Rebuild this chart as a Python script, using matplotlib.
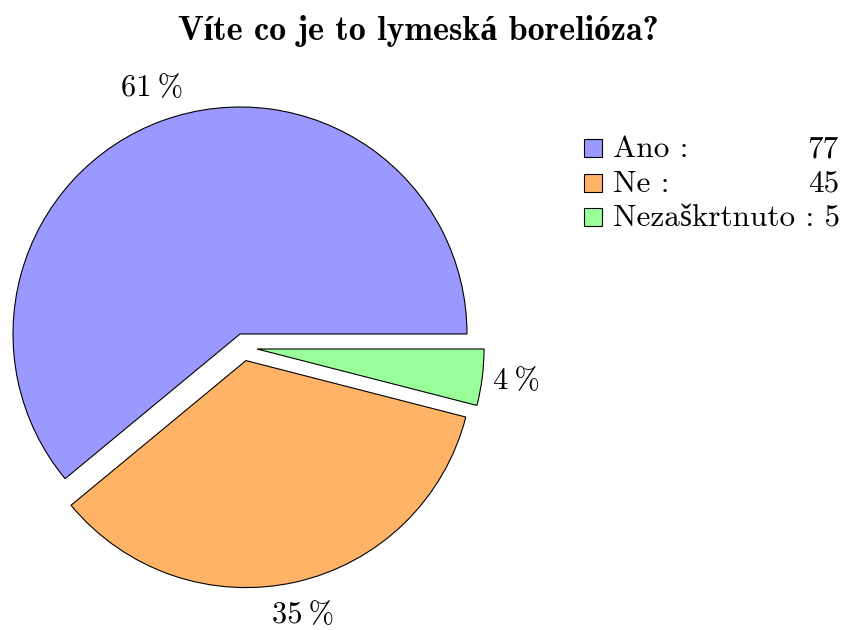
import matplotlib
matplotlib.use('Agg')
import matplotlib.pyplot as plt
from matplotlib.patches import Rectangle

# data
categories = ['Ano', 'Ne', 'Nezaškrtnuto']
percents = [61, 35, 4]
counts = [77, 45, 5]
colors = ['#9999ff', '#ffb366', '#99ff99']
title = 'Víte co je to lymeská borelióza?'

W, H = 842, 630
R = 227.0          # radius in px
cx, cy = 240, 334  # pie centre in px (from top)

serif = ['cmr10', 'Liberation Serif']
bold = ['cmb10', 'Liberation Serif']

fig = plt.figure(figsize=(W / 100, H / 100), dpi=100)
ax = fig.add_axes([0, 0, 1, 1])

wedges, texts = ax.pie(percents, colors=colors, startangle=0, counterclock=True,
                       explode=[0, 0.12, 0],
                       labels=['%d\u2009%%' % p for p in percents],
                       labeldistance=1.15,
                       wedgeprops=dict(edgecolor='black', linewidth=0.8),
                       textprops=dict(fontsize=22, family=serif),
                       frame=True)
ax.axis('off')
ax.set_aspect('equal')
ax.set_xlim(-cx / R, (W - cx) / R)
ax.set_ylim(-(H - cy) / R, cy / R)

# shift the small slice like in the original
dx, dy = 0.075, -0.066
wedges[2].set_center((dx, dy))
x, y = texts[2].get_position()
texts[2].set_position((x + dx, y + dy))
for t in texts:
    t.set_ha('center')
    t.set_va('center')

fig.text(418 / W, 1 - 40 / H, title, ha='center', va='baseline',
         fontsize=24.5, family=bold, fontweight='bold')

# legend
base = [157, 191.5, 226]
for i, name in enumerate(categories):
    yb = base[i]
    fig.patches.append(Rectangle((584 / W, 1 - yb / H), 18 / W, 18 / H,
                                 transform=fig.transFigure, facecolor=colors[i],
                                 edgecolor='black', linewidth=0.8))
    if i < 2:
        fig.text(613 / W, 1 - yb / H, name + ' :', ha='left', va='baseline',
                 fontsize=22.5, family=serif)
        fig.text(839 / W, 1 - yb / H, str(counts[i]), ha='right', va='baseline',
                 fontsize=22.5, family=serif)
    else:
        fig.text(613 / W, 1 - yb / H, name + ' : ' + str(counts[i]), ha='left',
                 va='baseline', fontsize=22.5, family=serif)

fig.savefig('out.png', dpi=100)
